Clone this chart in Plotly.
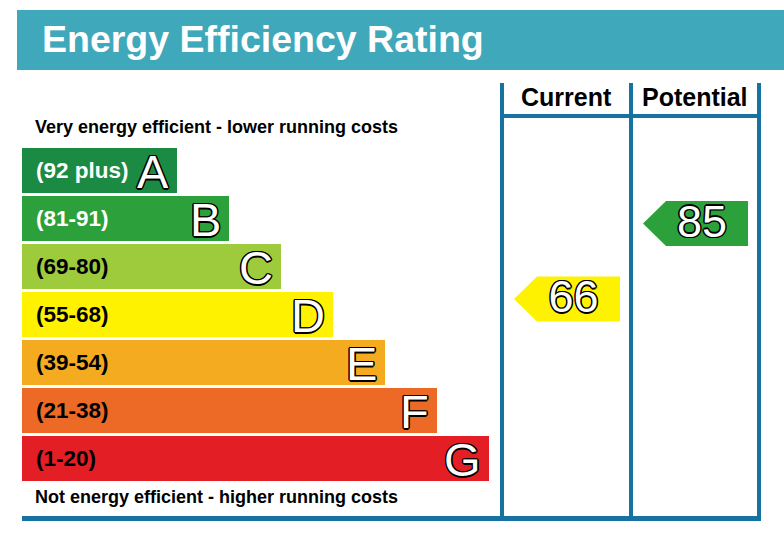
import plotly.graph_objects as go

# rating bands, best to worst
bands = ["A", "B", "C", "D", "E", "F", "G"]
band_ranges = ["(92 plus)", "(81-91)", "(69-80)", "(55-68)", "(39-54)", "(21-38)", "(1-20)"]
band_min = [92, 81, 69, 55, 39, 21, 1]
band_colors = ["#1b8a43", "#2ca03b", "#9dcb3c", "#fff200", "#f5ab1f", "#ec6a26", "#e31e25"]
range_text_colors = ["white", "white", "black", "black", "black", "black", "black"]

columns = ["Current", "Potential"]
ratings = [66, 85]

HEADER = "#3fa8bb"
LINE = "#1672a0"
FONT = "Liberation Sans, Arial, sans-serif"
OUTLINE = ("1.5px 0 0 #000, -1.5px 0 0 #000, 0 1.5px 0 #000, 0 -1.5px 0 #000, "
           "1px 1px 0 #000, -1px -1px 0 #000, 1px -1px 0 #000, -1px 1px 0 #000")

W, H = 784, 546
bar_left, bar_top, bar_h, bar_gap = 22, 148, 45, 3
bar_len0, bar_step = 155, 52
col_x = [502, 631, 759]          # table column lines
px_per_pt = 3.97                 # vertical scale of the rating arrows
y2_top = 66 + 299 / px_per_pt


def band_of(v):
    for i, m in enumerate(band_min):
        if v >= m:
            return i
    return len(bands) - 1


fig = go.Figure()

centers = [bar_top + i * (bar_h + bar_gap) + bar_h / 2 for i in range(len(bands))]
lengths = [bar_len0 + i * bar_step for i in range(len(bands))]

fig.add_trace(go.Bar(
    y=centers, x=lengths, base=bar_left, orientation="h", width=bar_h,
    marker=dict(color=band_colors, line_width=0), hoverinfo="skip",
))

annotations = []
for i, b in enumerate(bands):
    annotations.append(dict(
        x=bar_left + 12, y=centers[i], text=band_ranges[i], showarrow=False,
        xanchor="left", yanchor="middle",
        font=dict(family=FONT, size=22.5, color=range_text_colors[i], weight="bold"),
    ))
    annotations.append(dict(
        x=bar_left + lengths[i] - 6, y=centers[i] + 1, text=b, showarrow=False,
        xanchor="right", yanchor="middle",
        font=dict(family=FONT, size=47, color="white", shadow=OUTLINE),
    ))

# rating arrows, placed on the score axis
half = 22.5 / px_per_pt
for j, v in enumerate(ratings):
    left, right = col_x[j] + 12, col_x[j + 1] - 11
    c = band_colors[band_of(v)]
    fig.add_trace(go.Scatter(
        x=[left, left + 23, right, right, left + 23, left],
        y=[v, v + half, v + half, v - half, v - half, v],
        yaxis="y2", mode="lines", fill="toself", fillcolor=c,
        line=dict(width=0, color=c), hoverinfo="skip",
    ))
    fig.add_trace(go.Scatter(
        x=[(left + 23 + right) / 2 - 5], y=[v - 2 / px_per_pt], yaxis="y2", mode="text",
        text=[str(v)], textposition="middle center",
        textfont=dict(family=FONT, size=45, color="white", shadow=OUTLINE),
        hoverinfo="skip",
    ))

for j, name in enumerate(columns):
    annotations.append(dict(
        x=(col_x[j] + col_x[j + 1]) / 2, y=97, text=name, showarrow=False,
        xanchor="center", yanchor="middle",
        font=dict(family=FONT, size=25, color="black", weight="bold"),
    ))

annotations += [
    dict(x=40, y=39, text="Energy Efficiency Rating", showarrow=False,
         xanchor="left", yanchor="middle",
         font=dict(family=FONT, size=37.5, color="white", weight="bold")),
    dict(x=33, y=127, text="Very energy efficient - lower running costs", showarrow=False,
         xanchor="left", yanchor="middle",
         font=dict(family=FONT, size=18, color="black", weight="bold")),
    dict(x=33, y=497, text="Not energy efficient - higher running costs", showarrow=False,
         xanchor="left", yanchor="middle",
         font=dict(family=FONT, size=18, color="black", weight="bold")),
]

shapes = [
    dict(type="rect", x0=17, x1=W + 4, y0=10, y1=70, fillcolor=HEADER, line_width=0, layer="below"),
    dict(type="line", x0=col_x[0] - 2, x1=col_x[-1] + 2, y0=116, y1=116, line=dict(color=LINE, width=4)),
    dict(type="line", x0=bar_left, x1=col_x[-1] + 2, y0=518.5, y1=518.5, line=dict(color=LINE, width=5)),
]
for x in col_x:
    shapes.append(dict(type="line", x0=x, x1=x, y0=83, y1=518, line=dict(color=LINE, width=4)))

fig.update_layout(
    width=W, height=H, margin=dict(l=0, r=0, t=0, b=0),
    paper_bgcolor="white", plot_bgcolor="white", showlegend=False,
    xaxis=dict(range=[0, W], visible=False, fixedrange=True),
    yaxis=dict(range=[H, 0], visible=False, fixedrange=True),
    yaxis2=dict(range=[y2_top - H / px_per_pt, y2_top], overlaying="y", visible=False, fixedrange=True),
    shapes=shapes, annotations=annotations, bargap=0,
)

# drop the default page margin so the figure fills the window
fig.write_html("out.html", config={"displayModeBar": False},
               post_script="document.body.style.margin='0';document.body.style.overflow='hidden';")
